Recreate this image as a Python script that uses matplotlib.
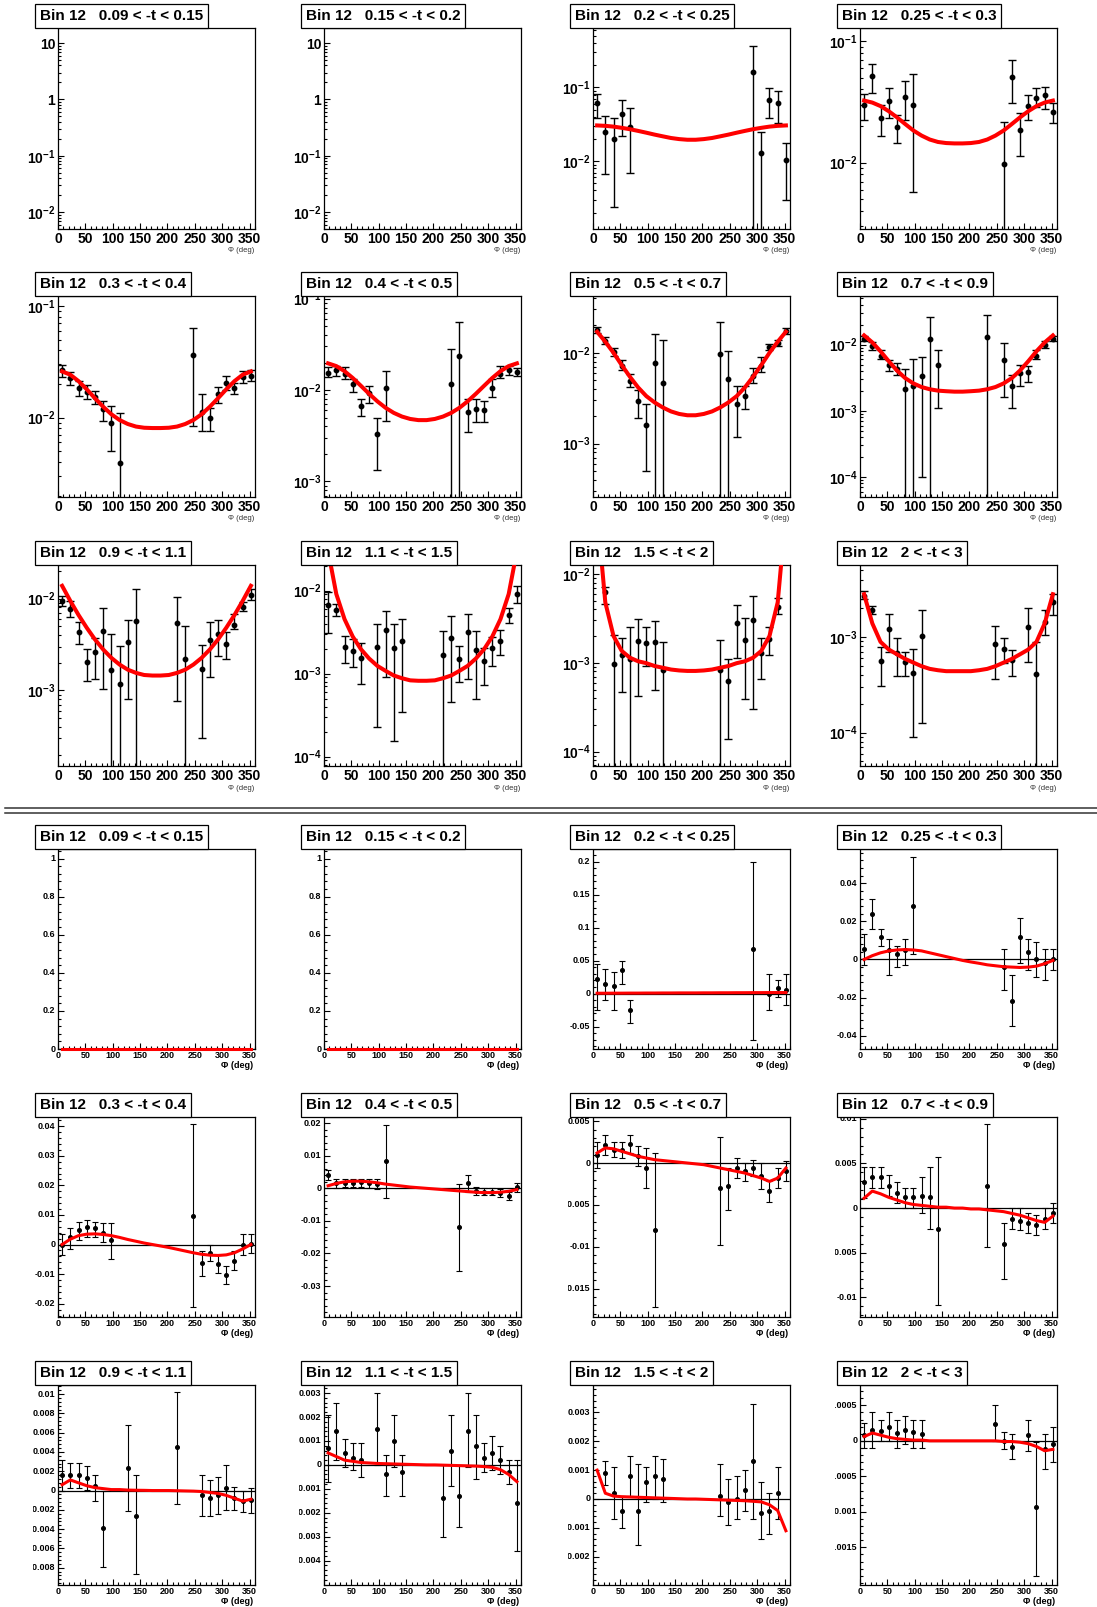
import numpy as np
import matplotlib
matplotlib.use("Agg")
import matplotlib.pyplot as plt
from matplotlib.ticker import (FixedLocator, MultipleLocator, NullFormatter,
                               LogLocator, FuncFormatter, AutoMinorLocator)
from matplotlib.lines import Line2D
from matplotlib.transforms import Bbox, TransformedBbox, offset_copy

plt.rcParams.update({
    "font.family": ["Liberation Sans", "DejaVu Sans"],
    "font.weight": "bold",
    "mathtext.fontset": "custom",
    "mathtext.rm": "Liberation Sans:bold",
    "mathtext.bf": "Liberation Sans:bold",
    "mathtext.it": "Liberation Sans:bold",
})

# ---------------- data ----------------
PHI = [7.5, 22.5, 37.5, 52.5, 67.5, 82.5, 97.5, 112.5, 127.5, 142.5, 157.5, 172.5,
       187.5, 202.5, 217.5, 232.5, 247.5, 262.5, 277.5, 292.5, 307.5, 322.5, 337.5, 352.5]
X_TICKS = [0, 50, 100, 150, 200, 250, 300, 350]
LOW = 1e-9  # error bar running below the axis

TITLES = ["Bin 12   0.09 < -t < 0.15", "Bin 12   0.15 < -t < 0.2", "Bin 12   0.2 < -t < 0.25",
          "Bin 12   0.25 < -t < 0.3", "Bin 12   0.3 < -t < 0.4", "Bin 12   0.4 < -t < 0.5",
          "Bin 12   0.5 < -t < 0.7", "Bin 12   0.7 < -t < 0.9", "Bin 12   0.9 < -t < 1.1",
          "Bin 12   1.1 < -t < 1.5", "Bin 12   1.5 < -t < 2", "Bin 12   2 < -t < 3"]

# ---- top half (log scale) ----
t1_ylim = (0.005, 18.5)
t2_ylim = (0.005, 18.5)

t3_ylim = (0.0012, 0.64)
t3_phi = [7.5, 22.5, 37.5, 52.5, 67.5, 292.5, 307.5, 322.5, 337.5, 352.5]
t3_val = [0.0611, 0.0251, 0.0197, 0.0442, 0.029, 0.16, 0.0127, 0.068, 0.0624, 0.0103]
t3_up = [0.081, 0.041, 0.038, 0.067, 0.052, 0.36, 0.0251, 0.097, 0.09, 0.0174]
t3_dn = [0.039, 0.0066, 0.0024, 0.0217, 0.0068, LOW, LOW, 0.038, 0.0326, 0.003]
t3_fit = [0.0305, 0.0301, 0.0294, 0.0283, 0.0271, 0.0257, 0.0243, 0.0229, 0.0217, 0.0206, 0.0199, 0.0195,
          0.0195, 0.0199, 0.0206, 0.0217, 0.0229, 0.0243, 0.0257, 0.0271, 0.0283, 0.0294, 0.0301, 0.0305]

t4_ylim = (0.00285, 0.128)
t4_phi = [7.5, 22.5, 37.5, 52.5, 67.5, 82.5, 97.5, 262.5, 277.5, 292.5, 307.5, 322.5, 337.5, 352.5]
t4_val = [0.0298, 0.0514, 0.0232, 0.0321, 0.0197, 0.0349, 0.0300, 0.0098, 0.0504, 0.0184, 0.0294, 0.0342, 0.0358, 0.0262]
t4_up = [0.0369, 0.065, 0.0298, 0.0411, 0.0246, 0.0467, 0.0537, 0.0214, 0.070, 0.0254, 0.0360, 0.0411, 0.0422, 0.0310]
t4_dn = [0.0225, 0.0374, 0.0166, 0.0232, 0.0146, 0.0225, 0.00575, LOW, 0.0310, 0.0113, 0.0225, 0.0285, 0.0276, 0.0210]
t4_fit = [0.0324, 0.0312, 0.0292, 0.0265, 0.0236, 0.0208, 0.0184, 0.0167, 0.0155, 0.0148, 0.0145, 0.0144,
          0.0144, 0.0145, 0.0148, 0.0155, 0.0167, 0.0184, 0.0208, 0.0236, 0.0265, 0.0292, 0.0312, 0.0324]

t5_ylim = (0.00194, 0.1228)
t5_phi = [7.5, 22.5, 37.5, 52.5, 67.5, 82.5, 97.5, 112.5, 247.5, 262.5, 277.5, 292.5, 307.5, 322.5, 337.5, 352.5]
t5_val = [0.0264, 0.0224, 0.0184, 0.0170, 0.0153, 0.01187, 0.0090, 0.0039, 0.0361, 0.0111, 0.0100, 0.0164, 0.0204, 0.0185, 0.0230, 0.0238]
t5_up = [0.0294, 0.0255, 0.0212, 0.0195, 0.0174, 0.0141, 0.0127, 0.0110, 0.0641, 0.0161, 0.0123, 0.0188, 0.0235, 0.0205, 0.0259, 0.0264]
t5_dn = [0.0232, 0.0195, 0.0156, 0.0148, 0.0131, 0.0093, 0.0050, LOW, 0.0084, 0.0075, 0.0075, 0.0134, 0.0176, 0.0161, 0.0205, 0.0212]
t5_fit = [0.0259, 0.0242, 0.0212, 0.0179, 0.0149, 0.0125, 0.0107, 0.0095, 0.00875, 0.0083, 0.0081, 0.00805,
          0.00805, 0.0081, 0.0083, 0.00875, 0.0095, 0.0107, 0.0125, 0.0149, 0.0179, 0.0212, 0.0242, 0.0259]

t6_ylim = (0.000676, 0.107)
t6_phi = [7.5, 22.5, 37.5, 52.5, 67.5, 82.5, 97.5, 112.5, 232.5, 247.5, 262.5, 277.5, 292.5, 307.5, 322.5, 337.5, 352.5]
t6_val = [0.0154, 0.0164, 0.0149, 0.01152, 0.0067, 0.0092, 0.00327, 0.0105, 0.0117, 0.0238, 0.00581, 0.00627, 0.0060, 0.0106, 0.0151, 0.0165, 0.0157]
t6_up = [0.0178, 0.0182, 0.0179, 0.0131, 0.00805, 0.0112, 0.0050, 0.0161, 0.0284, 0.0549, 0.00805, 0.0079, 0.0076, 0.0131, 0.0182, 0.0182, 0.0175]
t6_dn = [0.0138, 0.0144, 0.0131, 0.00951, 0.00522, 0.00716, 0.00135, 0.0046, LOW, LOW, 0.00344, 0.00449, 0.0045, 0.0084, 0.0135, 0.0148, 0.0142]
t6_fit = [0.0196, 0.0183, 0.0161, 0.01356, 0.01113, 0.0091, 0.00753, 0.0064, 0.00563, 0.00513, 0.00483, 0.00469,
          0.00469, 0.00483, 0.00513, 0.00563, 0.0064, 0.00753, 0.0091, 0.01113, 0.01356, 0.0161, 0.0183, 0.0196]

t7_ylim = (0.000258, 0.0422)
t7_phi = [7.5, 22.5, 37.5, 52.5, 67.5, 82.5, 97.5, 112.5, 127.5, 232.5, 247.5, 262.5, 277.5, 292.5, 307.5, 322.5, 337.5, 352.5]
t7_val = [0.0178, 0.01357, 0.0103, 0.00713, 0.00491, 0.00296, 0.00159, 0.00776, 0.00467, 0.0098, 0.0051, 0.00276, 0.00336, 0.00557, 0.00713, 0.0116, 0.0129, 0.0175]
t7_up = [0.0190, 0.0150, 0.0114, 0.0083, 0.0058, 0.0039, 0.0027, 0.0161, 0.0140, 0.0220, 0.0104, 0.0043, 0.0043, 0.00672, 0.00888, 0.0124, 0.0140, 0.0186]
t7_dn = [0.0166, 0.0125, 0.0092, 0.0064, 0.0042, 0.0019, 0.00050, LOW, LOW, LOW, LOW, 0.00118, 0.0024, 0.00459, 0.0061, 0.0107, 0.0119, 0.0163]
t7_fit = [0.01705, 0.01322, 0.0100, 0.00731, 0.00544, 0.00415, 0.00333, 0.00284, 0.0025, 0.00226, 0.00212, 0.00205,
          0.00205, 0.00212, 0.00226, 0.0025, 0.00284, 0.00333, 0.00415, 0.00544, 0.00731, 0.0100, 0.01322, 0.01705]

t8_ylim = (5.0e-5, 0.0543)
t8_phi = [7.5, 22.5, 37.5, 52.5, 67.5, 82.5, 97.5, 112.5, 127.5, 142.5, 232.5, 262.5, 277.5, 292.5, 307.5, 322.5, 337.5, 352.5]
t8_val = [0.0123, 0.00944, 0.00684, 0.00496, 0.00422, 0.00216, 0.00237, 0.00335, 0.0122, 0.0049, 0.0129, 0.00596, 0.00237, 0.00367, 0.00385, 0.00684, 0.0098, 0.0123]
t8_up = [0.0133, 0.0108, 0.0082, 0.00596, 0.0053, 0.0043, 0.0061, 0.00653, 0.026, 0.0084, 0.0276, 0.0106, 0.00347, 0.0049, 0.0048, 0.0082, 0.0112, 0.0133]
t8_dn = [0.0112, 0.0084, 0.0061, 0.0040, 0.00343, LOW, LOW, 0.0001, LOW, 0.00112, LOW, 0.00162, 0.0011, 0.00237, 0.00272, 0.0061, 0.0089, 0.0112]
t8_fit = [0.0138, 0.0108, 0.00794, 0.00562, 0.00407, 0.00313, 0.0026, 0.00229, 0.00212, 0.00202, 0.00198, 0.00195,
          0.00195, 0.00198, 0.00202, 0.00212, 0.00229, 0.0026, 0.00313, 0.00407, 0.00562, 0.00794, 0.0108, 0.0138]

t9_ylim = (1.5e-4, 0.0232)
t9_phi = [7.5, 22.5, 37.5, 52.5, 67.5, 82.5, 97.5, 112.5, 127.5, 142.5, 217.5, 232.5, 262.5, 277.5, 292.5, 307.5, 322.5, 337.5, 352.5]
t9_val = [0.00943, 0.00777, 0.00432, 0.00203, 0.00261, 0.00443, 0.00166, 0.00117, 0.00335, 0.0057, 0.00546, 0.0022, 0.00169, 0.00352, 0.00407, 0.00322, 0.00511, 0.0081, 0.0110]
t9_up = [0.0107, 0.0093, 0.00555, 0.0028, 0.0037, 0.0078, 0.0041, 0.00303, 0.0059, 0.0126, 0.0103, 0.0050, 0.00311, 0.0056, 0.0058, 0.00432, 0.00674, 0.0092, 0.0126]
t9_dn = [0.0082, 0.00635, 0.00316, 0.00125, 0.00133, 0.00103, LOW, LOW, 0.00081, LOW, 0.00077, LOW, 0.0003, 0.0014, 0.00239, 0.0022, 0.00462, 0.0073, 0.0096]
t9_fit = [0.01377, 0.00943, 0.00662, 0.00481, 0.00359, 0.00279, 0.00226, 0.00191, 0.00168, 0.00155, 0.00147, 0.00145,
          0.00145, 0.00147, 0.00155, 0.00168, 0.00191, 0.00226, 0.00279, 0.00359, 0.00481, 0.00662, 0.00943, 0.01377]

t10_ylim = (7.7e-5, 0.0204)
t10_phi = [7.5, 22.5, 37.5, 52.5, 67.5, 97.5, 112.5, 127.5, 142.5, 217.5, 232.5, 247.5, 262.5, 277.5, 292.5, 307.5, 322.5, 337.5, 352.5]
t10_val = [0.00671, 0.00589, 0.0021, 0.00188, 0.00156, 0.00212, 0.00337, 0.00206, 0.00246, 0.00167, 0.00272, 0.00149, 0.00314, 0.00191, 0.00142, 0.00203, 0.0025, 0.00513, 0.0091]
t10_up = [0.0097, 0.0069, 0.00285, 0.0026, 0.00231, 0.0040, 0.0057, 0.0040, 0.00454, 0.00328, 0.00489, 0.00216, 0.0052, 0.00328, 0.00206, 0.0028, 0.00334, 0.00617, 0.0113]
t10_dn = [0.00305, 0.0050, 0.00133, 0.0012, 0.00074, 0.000228, 0.00092, 0.000153, 0.000347, LOW, 0.000459, 0.0008, 0.00087, 0.0005, 0.00072, 0.00124, 0.00168, 0.00407, 0.0072]
t10_fit = [0.03, 0.00911, 0.00454, 0.0028, 0.00197, 0.00152, 0.00124, 0.00108, 0.00095, 0.00088, 0.00083, 0.00082,
           0.00082, 0.00083, 0.00088, 0.00095, 0.00108, 0.00124, 0.00152, 0.00197, 0.0028, 0.00454, 0.00911, 0.03]

t11_ylim = (6.9e-5, 0.0126)
t11_phi = [22.5, 37.5, 52.5, 67.5, 82.5, 97.5, 112.5, 127.5, 232.5, 247.5, 262.5, 277.5, 292.5, 307.5, 322.5, 337.5]
t11_val = [0.0062, 0.00096, 0.00121, 0.0011, 0.00176, 0.00166, 0.00171, 0.000826, 0.000826, 0.000621, 0.00279, 0.00179, 0.00304, 0.00128, 0.00184, 0.00419]
t11_up = [0.0071, 0.00204, 0.00192, 0.0025, 0.00309, 0.0025, 0.00297, 0.00171, 0.00179, 0.00109, 0.0045, 0.00318, 0.00569, 0.00192, 0.0025, 0.0053]
t11_dn = [0.00457, LOW, 0.000465, LOW, 0.000419, 0.00092, 0.000499, LOW, LOW, 0.000139, 0.00114, 0.000394, 0.000304, 0.000649, 0.00121, 0.00353]
t11_fit = [0.05, 0.00478, 0.002, 0.00136, 0.00114, 0.00104, 0.00099, 0.00092, 0.00088, 0.00084, 0.00082, 0.00081,
           0.00081, 0.00082, 0.00084, 0.00088, 0.00092, 0.00099, 0.00104, 0.00114, 0.00136, 0.002, 0.00478, 0.05]

t12_ylim = (4.46e-5, 0.00568)
t12_phi = [7.5, 22.5, 37.5, 52.5, 67.5, 82.5, 97.5, 112.5, 247.5, 262.5, 277.5, 307.5, 322.5, 337.5, 352.5]
t12_val = [0.0027, 0.00192, 0.000555, 0.00122, 0.00068, 0.00055, 0.000421, 0.00102, 0.000837, 0.000754, 0.000573, 0.00128, 0.000411, 0.00145, 0.0023]
t12_up = [0.00305, 0.00212, 0.00079, 0.00173, 0.00098, 0.000695, 0.000754, 0.00192, 0.0013, 0.00097, 0.00074, 0.00203, 0.00089, 0.0019, 0.00281]
t12_dn = [0.00249, 0.00173, 0.00031, 0.000695, 0.00039, 0.000395, 8.9e-5, 0.000127, 0.000364, 0.000537, 0.000395, 0.00055, LOW, 0.00105, 0.0017]
t12_fit = [0.00281, 0.00139, 0.00089, 0.00074, 0.00066, 0.00059, 0.00054, 0.000495, 0.000464, 0.000449, 0.000439, 0.000439,
           0.000439, 0.000439, 0.000449, 0.000464, 0.000495, 0.00054, 0.00059, 0.00066, 0.00074, 0.00089, 0.00139, 0.00281]

# ---- bottom half (linear scale) ----
b1_ylim = (0.0, 1.05)
b1_ticks = [0, 0.2, 0.4, 0.6, 0.8, 1]
b1_fit = [0.0] * 24
b2_ylim = (0.0, 1.05)
b2_ticks = [0, 0.2, 0.4, 0.6, 0.8, 1]
b2_fit = [0.0] * 24

b3_ylim = (-0.084, 0.219)
b3_ticks = [-0.05, 0, 0.05, 0.1, 0.15, 0.2]
b3_phi = [7.5, 22.5, 37.5, 52.5, 67.5, 292.5, 322.5, 337.5, 352.5]
b3_val = [0.022, 0.014, 0.011, 0.036, -0.025, 0.068, 0.0, 0.009, 0.005]
b3_up = [0.045, 0.037, 0.033, 0.05, -0.01, 0.2, 0.03, 0.02, 0.03]
b3_dn = [-0.025, -0.01, -0.025, 0.015, -0.045, -0.07, -0.025, -0.005, -0.017]
b3_fit = [0.0005, 0.0005, 0.0006, 0.0006, 0.0007, 0.0007, 0.0008, 0.0008, 0.0009, 0.0009, 0.001, 0.001,
          0.001, 0.0011, 0.0011, 0.0012, 0.0012, 0.0013, 0.0013, 0.0014, 0.0014, 0.0015, 0.0015, 0.0015]

b4_ylim = (-0.047, 0.058)
b4_ticks = [-0.04, -0.02, 0, 0.02, 0.04]
b4_phi = [7.5, 22.5, 37.5, 52.5, 67.5, 82.5, 97.5, 262.5, 277.5, 292.5, 307.5, 322.5, 337.5, 352.5]
b4_val = [0.0054, 0.024, 0.012, 0.005, 0.0027, 0.005, 0.028, -0.004, -0.022, 0.012, 0.0038, 0.0, -0.0016, 0.0]
b4_up = [0.0135, 0.032, 0.0162, 0.011, 0.007, 0.011, 0.054, 0.0054, -0.0081, 0.0216, 0.011, 0.0092, 0.0054, 0.0054]
b4_dn = [-0.0027, 0.0162, 0.0070, -0.008, -0.0038, -0.0027, 0.0027, -0.0162, -0.035, -0.0016, -0.0054, -0.0092, -0.011, -0.0054]
b4_fit = [0.0, 0.002, 0.0035, 0.0045, 0.005, 0.0052, 0.005, 0.0045, 0.0035, 0.0025, 0.0015, 0.0005,
          -0.0005, -0.0013, -0.002, -0.0028, -0.0033, -0.0038, -0.004, -0.0042, -0.004, -0.0035, -0.0022, -0.0005]

b5_ylim = (-0.0245, 0.0431)
b5_ticks = [-0.02, -0.01, 0, 0.01, 0.02, 0.03, 0.04]
b5_phi = [7.5, 22.5, 37.5, 52.5, 67.5, 82.5, 97.5, 247.5, 262.5, 277.5, 292.5, 307.5, 322.5, 337.5, 352.5]
b5_val = [0.0, 0.0024, 0.005, 0.006, 0.0055, 0.004, 0.0014, 0.0097, -0.0063, -0.0028, -0.0066, -0.0104, -0.0056, 0.0, 0.0003]
b5_up = [0.0035, 0.0056, 0.0076, 0.0083, 0.0076, 0.0073, 0.0073, 0.0406, -0.0021, 0.0, -0.0035, -0.0073, -0.0021, 0.0035, 0.0035]
b5_dn = [-0.0035, -0.0014, 0.0014, 0.0024, 0.0024, 0.0007, -0.0049, -0.021, -0.0108, -0.0056, -0.0097, -0.0132, -0.0087, -0.0035, -0.0028]
b5_fit = [0.0, 0.0018, 0.003, 0.0035, 0.0036, 0.0034, 0.003, 0.0024, 0.0017, 0.0011, 0.0005, 0.0,
          -0.0005, -0.001, -0.0016, -0.0022, -0.0028, -0.0033, -0.0036, -0.0037, -0.0035, -0.0028, -0.0015, 0.0]

b6_ylim = (-0.0395, 0.0219)
b6_ticks = [-0.03, -0.02, -0.01, 0, 0.01, 0.02]
b6_phi = [7.5, 22.5, 37.5, 52.5, 67.5, 82.5, 97.5, 112.5, 247.5, 262.5, 277.5, 292.5, 307.5, 322.5, 337.5, 352.5]
b6_val = [0.004, 0.0015, 0.0017, 0.0017, 0.0018, 0.0016, 0.0013, 0.0085, -0.012, 0.0015, -0.0008, -0.001, -0.001, -0.0015, -0.0025, 0.0003]
b6_up = [0.0055, 0.003, 0.003, 0.003, 0.003, 0.003, 0.003, 0.0195, 0.0012, 0.004, 0.0005, 0.0, 0.0, -0.0003, -0.0012, 0.0015]
b6_dn = [0.0025, 0.0, 0.0003, 0.0003, 0.0005, 0.0, -0.0003, -0.003, -0.0255, -0.001, -0.002, -0.002, -0.002, -0.0027, -0.0035, -0.001]
b6_fit = [0.0008, 0.0015, 0.002, 0.0022, 0.0022, 0.002, 0.0017, 0.0013, 0.001, 0.0007, 0.0004, 0.0002,
          0.0, -0.0002, -0.0004, -0.0006, -0.0008, -0.001, -0.0012, -0.0013, -0.0013, -0.0012, -0.0009, -0.0004]

b7_ylim = (-0.0184, 0.0055)
b7_ticks = [-0.015, -0.01, -0.005, 0, 0.005]
b7_phi = [7.5, 22.5, 37.5, 52.5, 67.5, 82.5, 97.5, 112.5, 232.5, 247.5, 262.5, 277.5, 292.5, 307.5, 322.5, 337.5, 352.5]
b7_val = [0.0009, 0.0021, 0.0016, 0.0015, 0.0023, 0.0008, -0.0006, -0.008, -0.003, -0.0028, -0.0006, -0.001, -0.0006, -0.0016, -0.0034, -0.0018, -0.0009]
b7_up = [0.0025, 0.0033, 0.0025, 0.0025, 0.0033, 0.002, 0.0018, 0.0012, 0.0031, -0.0006, 0.0006, 0.0, 0.0004, 0.0, -0.0022, -0.0006, 0.0003]
b7_dn = [-0.0006, 0.0009, 0.0007, 0.0006, 0.0012, -0.0004, -0.0030, -0.0172, -0.0098, -0.0056, -0.0018, -0.0022, -0.0016, -0.0031, -0.0046, -0.003, -0.0021]
b7_fit = [0.0012, 0.0018, 0.0017, 0.0014, 0.0011, 0.0008, 0.0006, 0.0004, 0.0003, 0.0002, 0.0001, 0.0,
          -0.0001, -0.0002, -0.0004, -0.0006, -0.0008, -0.001, -0.0012, -0.0015, -0.0018, -0.0022, -0.0018, -0.0006]

b8_ylim = (-0.0122, 0.0102)
b8_ticks = [-0.01, -0.005, 0, 0.005, 0.01]
b8_phi = [7.5, 22.5, 37.5, 52.5, 67.5, 82.5, 97.5, 112.5, 127.5, 142.5, 232.5, 262.5, 277.5, 292.5, 307.5, 322.5, 337.5, 352.5]
b8_val = [0.0029, 0.0035, 0.0035, 0.0025, 0.0017, 0.0012, 0.0012, 0.0014, 0.0012, -0.0023, 0.0025, -0.004, -0.0012, -0.0014, -0.0017, -0.0019, -0.0012, -0.0006]
b8_up = [0.0046, 0.0046, 0.0046, 0.0037, 0.0029, 0.0023, 0.0023, 0.0035, 0.0046, 0.0057, 0.0094, -0.0017, 0.0, 0.0, -0.0006, -0.0008, 0.0, 0.0006]
b8_dn = [0.0011, 0.0023, 0.0023, 0.0013, 0.0006, 0.0, 0.0, -0.0006, -0.0023, -0.0109, -0.0044, -0.0080, -0.0023, -0.0025, -0.0028, -0.003, -0.0023, -0.0017]
b8_fit = [0.0011, 0.0019, 0.0016, 0.0012, 0.0009, 0.0006, 0.0004, 0.0003, 0.0002, 0.0001, 0.0001, 0.0,
          0.0, -0.0001, -0.0001, -0.0002, -0.0003, -0.0004, -0.0006, -0.0008, -0.0011, -0.0014, -0.0016, -0.0009]

b9_ylim = (-0.0098, 0.01095)
b9_ticks = [-0.008, -0.006, -0.004, -0.002, 0, 0.002, 0.004, 0.006, 0.008, 0.01]
b9_phi = [7.5, 22.5, 37.5, 52.5, 67.5, 82.5, 127.5, 142.5, 217.5, 262.5, 277.5, 292.5, 307.5, 322.5, 337.5, 352.5]
b9_val = [0.0016, 0.0016, 0.0016, 0.0013, 0.0005, -0.0039, 0.0023, -0.0026, 0.0045, -0.0005, -0.0008, -0.0005, 0.0003, -0.0008, -0.0011, -0.001]
b9_up = [0.0032, 0.0029, 0.0029, 0.0025, 0.0016, 0.0, 0.0068, 0.0016, 0.0102, 0.0016, 0.0011, 0.0014, 0.0026, 0.0004, 0.0, 0.0003]
b9_dn = [0.0, 0.0003, 0.0003, 0.0001, -0.0011, -0.0079, -0.0021, -0.0087, -0.0014, -0.0026, -0.0026, -0.0024, -0.002, -0.002, -0.0022, -0.0023]
b9_fit = [0.0006, 0.0011, 0.0008, 0.0005, 0.0003, 0.0002, 0.0001, 0.0001, 0.00005, 0.00003, 0.00002, 0.0,
          0.0, 0.0, -0.00002, -0.00004, -0.00006, -0.0001, -0.0002, -0.0003, -0.0005, -0.0008, -0.0011, -0.0009]

b10_ylim = (-0.00502, 0.00334)
b10_ticks = [-0.004, -0.003, -0.002, -0.001, 0, 0.001, 0.002, 0.003]
b10_phi = [7.5, 22.5, 37.5, 52.5, 67.5, 97.5, 112.5, 127.5, 142.5, 217.5, 232.5, 247.5, 262.5, 277.5, 292.5, 307.5, 322.5, 337.5, 352.5]
b10_val = [0.0007, 0.0014, 0.0005, 0.0003, 0.0002, 0.0015, -0.0004, 0.001, -0.0003, -0.0014, 0.0006, -0.0013, 0.0014, 0.0008, 0.0003, 0.0005, 0.0002, -0.0003, -0.0016]
b10_up = [0.0021, 0.0026, 0.0011, 0.0009, 0.0009, 0.003, 0.0004, 0.0021, 0.0004, 0.0, 0.0021, 0.0, 0.003, 0.0021, 0.0009, 0.0012, 0.0008, 0.0002, 0.0002]
b10_dn = [-0.0007, 0.0002, -0.0001, -0.0002, -0.0005, 0.0, -0.0013, -0.0001, -0.0013, -0.0030, -0.0009, -0.0026, -0.0001, -0.0006, -0.0003, -0.0002, -0.0004, -0.0008, -0.0036]
b10_fit = [0.0005, 0.00035, 0.0002, 0.00015, 0.0001, 0.00008, 0.00006, 0.00005, 0.00004, 0.00003, 0.00002, 0.00001,
           0.0, 0.0, -0.00001, -0.00002, -0.00003, -0.00004, -0.00005, -0.00007, -0.0001, -0.0002, -0.0004, -0.0007]

b11_ylim = (-0.00298, 0.00395)
b11_ticks = [-0.002, -0.001, 0, 0.001, 0.002, 0.003]
b11_phi = [22.5, 37.5, 52.5, 67.5, 82.5, 97.5, 112.5, 127.5, 232.5, 247.5, 262.5, 277.5, 292.5, 307.5, 322.5, 337.5]
b11_val = [0.0009, 0.0002, -0.0004, 0.0008, -0.0004, 0.0006, 0.0008, 0.0007, 0.0001, -0.0001, 0.0, 0.0003, 0.0013, -0.0005, -0.0004, 0.0002]
b11_up = [0.0013, 0.0011, 0.0001, 0.0015, 0.0012, 0.0011, 0.0015, 0.0014, 0.0012, 0.0007, 0.0008, 0.001, 0.0033, 0.0006, 0.0002, 0.0011]
b11_dn = [0.0005, -0.0007, -0.001, 0.0001, -0.0016, -0.0001, 0.0, -0.0001, -0.0006, -0.0009, -0.0007, -0.0004, -0.0007, -0.0014, -0.0012, -0.0007]
b11_fit = [0.001, 0.0002, 0.0001, 0.00008, 0.00007, 0.00006, 0.00005, 0.00004, 0.00003, 0.00002, 0.00001, 0.0,
           0.0, -0.00001, -0.00002, -0.00003, -0.00004, -0.00005, -0.00006, -0.00008, -0.0001, -0.0002, -0.0004, -0.0011]

b12_ylim = (-0.00203, 0.000786)
b12_ticks = [-0.0015, -0.001, -0.0005, 0, 0.0005]
b12_phi = [7.5, 22.5, 37.5, 52.5, 67.5, 82.5, 97.5, 112.5, 247.5, 262.5, 277.5, 307.5, 322.5, 337.5, 352.5]
b12_val = [0.00008, 0.00015, 0.00014, 0.0002, 0.00011, 0.00015, 0.00012, 0.0001, 0.00023, 0.0, -0.00008, 0.00008, -0.00093, -0.00012, -0.00005]
b12_up = [0.00025, 0.0004, 0.0003, 0.0004, 0.0003, 0.00035, 0.0003, 0.0003, 0.0005, 0.00012, 0.0001, 0.0003, -0.00002, 0.0001, 0.0002]
b12_dn = [-0.0001, -0.0001, 0.0, 0.0, -0.0001, -0.00005, -0.0001, -0.0001, 0.0, -0.00012, -0.00025, -0.00015, -0.0019, -0.0004, -0.0003]
b12_fit = [0.00006, 0.00011, 0.00008, 0.00005, 0.00003, 0.00002, 0.00001, 0.00001, 0.0, 0.0, 0.0, 0.0,
           0.0, 0.0, 0.0, 0.0, 0.0, -0.00001, -0.00001, -0.00002, -0.00004, -0.00008, -0.00014, -0.00012]

# ---------------- layout (pixels) ----------------
W, H = 1097, 1607
COL_LEFT = [58, 324, 593, 860]
AX_W = 197
TOP_ROWS = [28, 296, 565]
TOP_H = 201
BOT_ROWS = [849, 1117, 1385]
BOT_H = 200

fig = plt.figure(figsize=(W / 100, H / 100), dpi=100)
fig.patch.set_facecolor("white")


def add_ax(left, top, w, h):
    return fig.add_axes([left / W, 1 - (top + h) / H, w / W, h / H])


def logfmt(v, pos):
    e = int(round(np.log10(v)))
    if e == 0:
        return "1"
    if e == 1:
        return "10"
    return r"$\mathbf{10^{%d}}$" % e


def common(ax, lab_size, xpad):
    ax.set_xlim(0, 360)
    ax.xaxis.set_major_locator(FixedLocator(X_TICKS))
    ax.xaxis.set_minor_locator(MultipleLocator(10))
    ax.tick_params(which="both", direction="in", top=False, right=False, width=0.8,
                   labelsize=lab_size, colors="black")
    ax.tick_params(axis="x", which="major", length=4.5, pad=xpad)
    ax.tick_params(axis="y", which="major", length=4.5)
    ax.tick_params(which="minor", length=2.3)
    for s in ax.spines.values():
        s.set_linewidth(0.9)
    for lab in ax.get_xticklabels():
        lab.set_fontweight("bold")


def title_box(left, top, text):
    fs = 11
    padfrac = 0.32
    padpx = padfrac * fs * 100 / 72
    fig.text((left - 23 + padpx) / W, 1 - (top - 12) / H, text, fontsize=fs, fontweight="bold",
             ha="left", va="center", zorder=10,
             bbox=dict(boxstyle="square,pad=%.2f" % padfrac, fc="white", ec="black", lw=0.9))


def errbars(ax, phi, val, up, dn, lw, cap, ms):
    v = np.array(val)
    lo = v - np.array(dn)
    hi = np.array(up) - v
    ax.errorbar(phi, val, yerr=[lo, hi], fmt="o", ms=ms, color="black", ecolor="black",
                elinewidth=lw, capsize=cap, capthick=lw, zorder=3)


def top_panel(col, row, title, ylim, phi=None, val=None, up=None, dn=None, fit=None):
    left, top = COL_LEFT[col], TOP_ROWS[row]
    ax = add_ax(left, top, AX_W, TOP_H)
    ax.set_yscale("log")
    ax.set_ylim(*ylim)
    common(ax, 10, 2.5)
    ax.yaxis.set_major_locator(LogLocator(base=10, numticks=20))
    ax.yaxis.set_minor_locator(LogLocator(base=10, subs=np.arange(2, 10), numticks=20))
    ax.yaxis.set_major_formatter(FuncFormatter(logfmt))
    ax.yaxis.set_minor_formatter(NullFormatter())
    ax.tick_params(axis="y", pad=2)
    if phi is not None:
        errbars(ax, phi, val, up, dn, 1.0, 2.6, 3.2)
    if fit is not None:
        ax.plot(PHI, fit, color="#ff0000", lw=2.9, zorder=4, solid_joinstyle="round")
    title_box(left, top, title)
    fig.text((left + AX_W - 1) / W, 1 - (top + TOP_H + 22) / H, "\u03a6 (deg)", fontsize=5.5,
             fontweight="normal", color="#333333", ha="right", va="center")
    return ax


def yfmt(v):
    if abs(v) < 1e-12:
        return "0"
    return "%g" % v


def bot_panel(col, row, title, ylim, ticks, phi=None, val=None, up=None, dn=None, fit=None):
    left, top = COL_LEFT[col], BOT_ROWS[row]
    ax = add_ax(left, top, AX_W, BOT_H)
    ax.set_ylim(*ylim)
    common(ax, 6.5, 1.5)
    ax.yaxis.set_major_locator(FixedLocator(ticks))
    ax.yaxis.set_minor_locator(AutoMinorLocator(5))
    ax.yaxis.set_major_formatter(NullFormatter())
    ax.axhline(0, color="black", lw=0.9, zorder=1.5)
    tr = offset_copy(ax.get_yaxis_transform(), fig=fig, x=-2.0, y=0, units="points")
    clip = TransformedBbox(Bbox.from_extents((left - 25) / W, 0, 1, 1), fig.transFigure)
    for t in ticks:
        txt = ax.text(0, t, yfmt(t), transform=tr, ha="right", va="center", fontsize=6.5,
                      fontweight="bold", clip_on=True)
        txt.set_clip_box(clip)
    if phi is not None:
        errbars(ax, phi, val, up, dn, 0.8, 2.0, 2.6)
    if fit is not None:
        ax.plot(PHI, fit, color="#ff0000", lw=2.2, zorder=4, solid_joinstyle="round",
                clip_on=False if ylim[0] == 0 else True)
    title_box(left, top, title)
    fig.text((left + AX_W - 2) / W, 1 - (top + BOT_H + 16) / H, "\u03a6 (deg)", fontsize=6.5,
             fontweight="bold", ha="right", va="center")
    return ax


# ---------------- top half ----------------
top_panel(0, 0, TITLES[0], t1_ylim)
top_panel(1, 0, TITLES[1], t2_ylim)
top_panel(2, 0, TITLES[2], t3_ylim, t3_phi, t3_val, t3_up, t3_dn, t3_fit)
top_panel(3, 0, TITLES[3], t4_ylim, t4_phi, t4_val, t4_up, t4_dn, t4_fit)
top_panel(0, 1, TITLES[4], t5_ylim, t5_phi, t5_val, t5_up, t5_dn, t5_fit)
top_panel(1, 1, TITLES[5], t6_ylim, t6_phi, t6_val, t6_up, t6_dn, t6_fit)
top_panel(2, 1, TITLES[6], t7_ylim, t7_phi, t7_val, t7_up, t7_dn, t7_fit)
top_panel(3, 1, TITLES[7], t8_ylim, t8_phi, t8_val, t8_up, t8_dn, t8_fit)
top_panel(0, 2, TITLES[8], t9_ylim, t9_phi, t9_val, t9_up, t9_dn, t9_fit)
top_panel(1, 2, TITLES[9], t10_ylim, t10_phi, t10_val, t10_up, t10_dn, t10_fit)
top_panel(2, 2, TITLES[10], t11_ylim, t11_phi, t11_val, t11_up, t11_dn, t11_fit)
top_panel(3, 2, TITLES[11], t12_ylim, t12_phi, t12_val, t12_up, t12_dn, t12_fit)

# separator (double rule)
for yy in (808, 813):
    fig.add_artist(Line2D([5 / W, 1.0], [1 - yy / H, 1 - yy / H], transform=fig.transFigure,
                          color="#333333", lw=1.1))

# ---------------- bottom half ----------------
bot_panel(0, 0, TITLES[0], b1_ylim, b1_ticks, fit=b1_fit)
bot_panel(1, 0, TITLES[1], b2_ylim, b2_ticks, fit=b2_fit)
bot_panel(2, 0, TITLES[2], b3_ylim, b3_ticks, b3_phi, b3_val, b3_up, b3_dn, b3_fit)
bot_panel(3, 0, TITLES[3], b4_ylim, b4_ticks, b4_phi, b4_val, b4_up, b4_dn, b4_fit)
bot_panel(0, 1, TITLES[4], b5_ylim, b5_ticks, b5_phi, b5_val, b5_up, b5_dn, b5_fit)
bot_panel(1, 1, TITLES[5], b6_ylim, b6_ticks, b6_phi, b6_val, b6_up, b6_dn, b6_fit)
bot_panel(2, 1, TITLES[6], b7_ylim, b7_ticks, b7_phi, b7_val, b7_up, b7_dn, b7_fit)
bot_panel(3, 1, TITLES[7], b8_ylim, b8_ticks, b8_phi, b8_val, b8_up, b8_dn, b8_fit)
bot_panel(0, 2, TITLES[8], b9_ylim, b9_ticks, b9_phi, b9_val, b9_up, b9_dn, b9_fit)
bot_panel(1, 2, TITLES[9], b10_ylim, b10_ticks, b10_phi, b10_val, b10_up, b10_dn, b10_fit)
bot_panel(2, 2, TITLES[10], b11_ylim, b11_ticks, b11_phi, b11_val, b11_up, b11_dn, b11_fit)
bot_panel(3, 2, TITLES[11], b12_ylim, b12_ticks, b12_phi, b12_val, b12_up, b12_dn, b12_fit)

fig.savefig("out.png", dpi=100, facecolor="white")
